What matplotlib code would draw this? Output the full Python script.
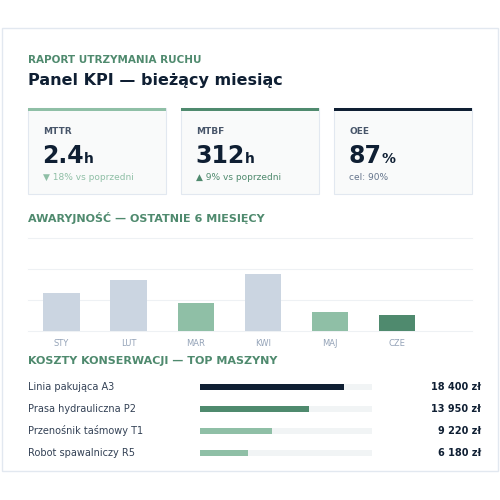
import matplotlib.pyplot as plt
from matplotlib.patches import Rectangle

# KPI cards
kpi_labels = ['MTTR', 'MTBF', 'OEE']
kpi_values = ['2.4', '312', '87']
kpi_units = ['h', 'h', '%']
kpi_notes = ['▼ 18% vs poprzedni', '▲ 9% vs poprzedni', 'cel: 90%']
kpi_note_colors = ['#8fbfa6', '#4f8a6e', '#64748b']
kpi_accents = ['#8fbfa6', '#4f8a6e', '#0f1f33']

# failures per month
months = ['STY', 'LUT', 'MAR', 'KWI', 'MAJ', 'CZE']
failures = [12, 16, 9, 18, 6, 5]
month_colors = ['#cbd5e1', '#cbd5e1', '#8fbfa6', '#cbd5e1', '#8fbfa6', '#4f8a6e']

# maintenance costs
machines = ['Linia pakująca A3', 'Prasa hydrauliczna P2', 'Przenośnik taśmowy T1', 'Robot spawalniczy R5']
costs = [18400, 13950, 9220, 6180]
cost_colors = ['#0f1f33', '#4f8a6e', '#8fbfa6', '#8fbfa6']
cost_max = 22000

DARK = '#0f1f33'
GREEN = '#4f8a6e'

fig = plt.figure(figsize=(5, 5), dpi=100)
fig.patch.set_facecolor('white')


def px(x, y):
    return x / 500, 1 - y / 500


def box(x0, y0, x1, y1, **kw):
    fig.add_artist(Rectangle(px(x0, y1), (x1 - x0) / 500, (y1 - y0) / 500,
                             transform=fig.transFigure, zorder=-5, **kw))


box(2, 28, 498, 471, facecolor='white', edgecolor='#e2e8f0', linewidth=1)

fig.text(*px(28, 60), 'RAPORT UTRZYMANIA RUCHU', color=GREEN, fontsize=7.5,
         fontweight='bold', va='center')
fig.text(*px(28, 81), 'Panel KPI — bieżący miesiąc', color=DARK, fontsize=11.5,
         fontweight='bold', va='center')

renderer = fig.canvas.get_renderer()
for i, x0 in enumerate([28, 181, 334]):
    box(x0, 108, x0 + 138, 194, facecolor='#f9fafa', edgecolor='#e2e8f0', linewidth=0.8)
    box(x0, 108, x0 + 138, 110.5, facecolor=kpi_accents[i], edgecolor='none')
    fig.text(*px(x0 + 15, 132), kpi_labels[i], color='#475569', fontsize=6.5,
             fontweight='bold', va='center')
    t = fig.text(*px(x0 + 14, 163), kpi_values[i], color=DARK, fontsize=17,
                 fontweight='bold', va='baseline')
    bb = t.get_window_extent(renderer=renderer)
    fig.text(bb.x1 / 500 + 0.001, 1 - 163 / 500, kpi_units[i], color=DARK,
             fontsize=10, fontweight='bold', va='baseline')
    fig.text(*px(x0 + 15, 178), kpi_notes[i], color=kpi_note_colors[i],
             fontsize=6.5, va='center')

fig.text(*px(28, 218), 'AWARYJNOŚĆ — OSTATNIE 6 MIESIĘCY', color=GREEN,
         fontsize=8, fontweight='bold', va='center')

ax = fig.add_axes([28 / 500, 1 - 331 / 500, 444 / 500, 93 / 500], zorder=5)
ax.bar(range(len(months)), failures, width=0.54, color=month_colors, zorder=2)
ax.set_xlim(-0.5, 6.12)
ax.set_ylim(0, 29.4)
for g in [0, 9.8, 19.6, 29.4]:
    ax.axhline(g, color='#eef1f4', linewidth=0.8, zorder=1, clip_on=False)
ax.set_xticks(range(len(months)))
ax.set_xticklabels(months, color='#94a3b8', fontsize=6)
ax.tick_params(length=0, pad=6)
ax.set_yticks([])
for s in ax.spines.values():
    s.set_visible(False)
ax.set_facecolor('none')

fig.text(*px(28, 361), 'KOSZTY KONSERWACJI — TOP MASZYNY', color=GREEN,
         fontsize=8, fontweight='bold', va='center')

ax2 = fig.add_axes([200 / 500, 1 - 464 / 500, 172 / 500, 88 / 500], zorder=5)
ys = list(range(len(machines)))
ax2.barh(ys, [cost_max] * len(ys), height=0.27, color='#f1f4f5')
ax2.barh(ys, costs, height=0.27, color=cost_colors)
ax2.set_xlim(0, cost_max)
ax2.set_ylim(3.5, -0.5)
ax2.axis('off')
for i, (m, c) in enumerate(zip(machines, costs)):
    y = 387 + 22 * i
    fig.text(*px(28, y), m, color='#334155', fontsize=7, va='center')
    label = f'{c:,}'.replace(',', ' ') + ' zł'
    fig.text(*px(481, y), label, color=DARK, fontsize=7, fontweight='bold',
             va='center', ha='right')

fig.savefig('out.png', dpi=100)
